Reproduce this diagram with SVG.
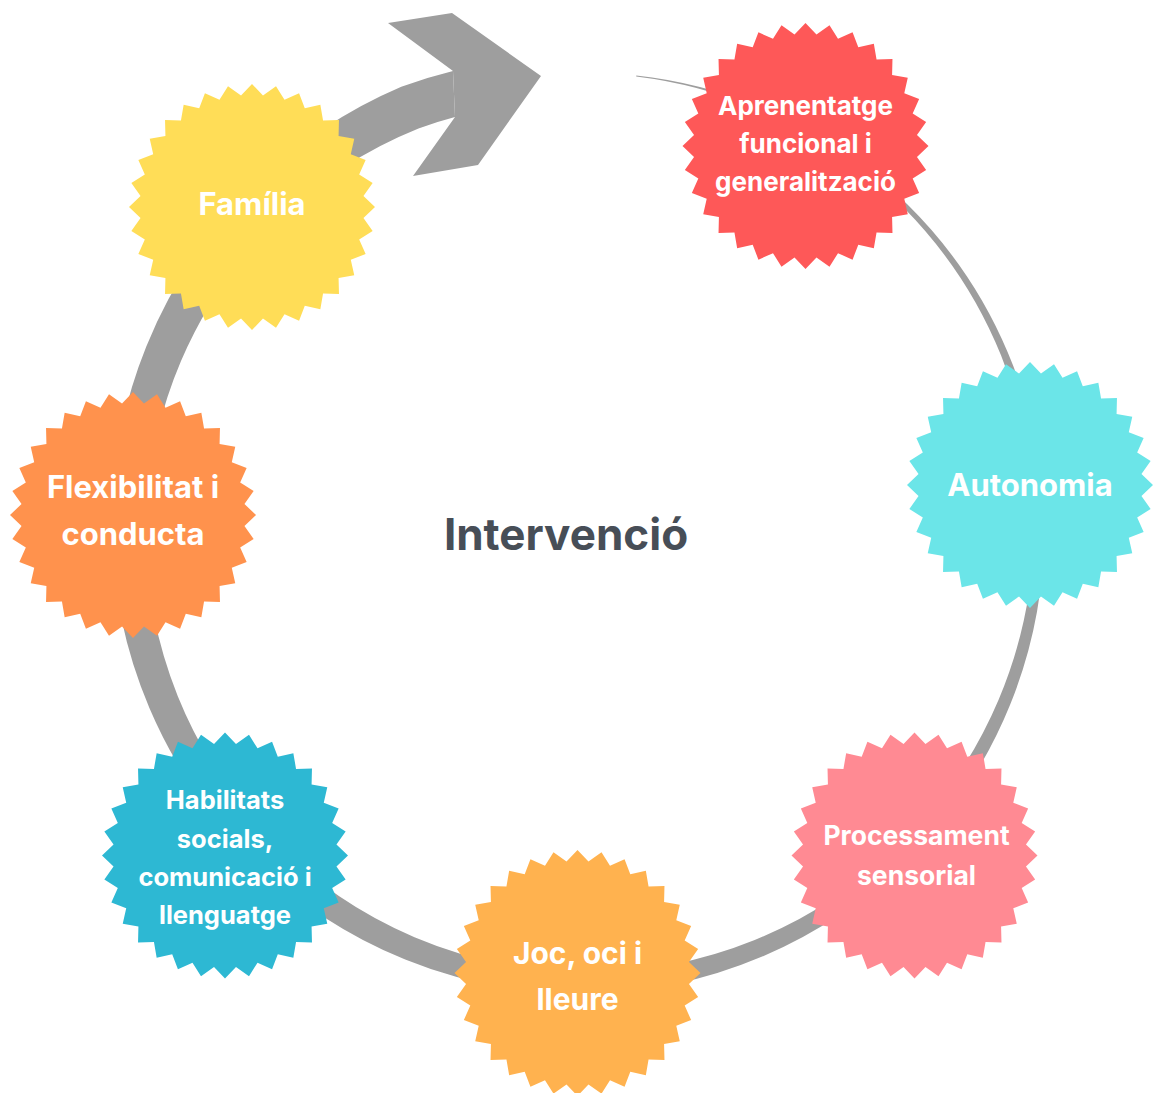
<svg xmlns="http://www.w3.org/2000/svg" xmlns:xlink="http://www.w3.org/1999/xlink" width="1153" height="1093" viewBox="0 0 1153 1093">
  <style>
    .band { fill: #9e9e9e; }
    .label { font-family: Inter, "Open Sans", "Liberation Sans", sans-serif; font-weight: 700; fill: #ffffff; text-anchor: middle; }
    .title { font-family: Inter, "Open Sans", "Liberation Sans", sans-serif; font-weight: 700; fill: #474e57; text-anchor: middle; font-size: 44px; }
  </style>
  <defs>
    <!-- 32-point starburst, apex at top, centred on the origin -->
    <polygon id="star" points="0,-123 10.98,-111.46 24,-120.64 32.51,-107.18 47.07,-113.64 52.8,-98.78 68.34,-102.27 71.05,-86.58 86.97,-86.97 86.58,-71.05 102.27,-68.34 98.78,-52.8 113.64,-47.07 107.18,-32.51 120.64,-24 111.46,-10.98 123,0 111.46,10.98 120.64,24 107.18,32.51 113.64,47.07 98.78,52.8 102.27,68.34 86.58,71.05 86.97,86.97 71.05,86.58 68.34,102.27 52.8,98.78 47.07,113.64 32.51,107.18 24,120.64 10.98,111.46 0,123 -10.98,111.46 -24,120.64 -32.51,107.18 -47.07,113.64 -52.8,98.78 -68.34,102.27 -71.05,86.58 -86.97,86.97 -86.58,71.05 -102.27,68.34 -98.78,52.8 -113.64,47.07 -107.18,32.51 -120.64,24 -111.46,10.98 -123,0 -111.46,-10.98 -120.64,-24 -107.18,-32.51 -113.64,-47.07 -98.78,-52.8 -102.27,-68.34 -86.58,-71.05 -86.97,-86.97 -71.05,-86.58 -68.34,-102.27 -52.8,-98.78 -47.07,-113.64 -32.51,-107.18 -24,-120.64 -10.98,-111.46"/>
  </defs>

  <rect width="1153" height="1093" fill="#ffffff"/>

  <!-- cycle band: tapers from a hairline at the top right, widening clockwise into the arrowhead -->
  <g id="connectors">
    <path class="band" d="M 636.3 75.5
      A 456 456 0 0 1 758.6 106.4
      A 457 457 0 0 1 907.5 204.5
      A 458 458 0 0 1 1007.8 352.5
      A 459 459 0 0 1 1044 528
      A 461 461 0 0 1 1010.2 704.5
      A 462 462 0 0 1 911.2 855.2
      A 463 463 0 0 1 761.6 956.8
      A 465 465 0 0 1 584 993.6
      A 466 466 0 0 1 405.2 959.6
      A 468 468 0 0 1 252.6 859.4
      A 470 470 0 0 1 149.4 708
      A 471 471 0 0 1 111.9 528
      A 473 473 0 0 1 146.2 346.7
      A 475 475 0 0 1 247.7 191.7
      A 476 476 0 0 1 401.3 86.8
      A 477 477 0 0 1 453 71
      L 455 117
      A 432 432 0 0 0 418.5 128.4
      A 433 433 0 0 0 276.9 220.9
      A 435 435 0 0 0 181 361.1
      A 437 437 0 0 0 146.1 528
      A 439 439 0 0 0 177.8 696.3
      A 440 440 0 0 0 272 840
      A 442 442 0 0 0 414.5 937.2
      A 444 444 0 0 0 584 972.4
      A 445 445 0 0 0 754.7 940
      A 447 447 0 0 0 900.3 844.3
      A 448 448 0 0 0 998.6 699.7
      A 450 450 0 0 0 1034 528
      A 451 451 0 0 0 1001 355.3
      A 452 452 0 0 0 904 208
      A 454 454 0 0 0 757.6 108.8
      A 454.5 454.5 0 0 0 636.2 76.5 Z"/>
    <polygon class="band" points="388,23 452,13 541,76 478,165 413,176 455,117 453,71"/>
  </g>

  <g id="node-aprenentatge" transform="translate(805.5,146)">
    <use xlink:href="#star" fill="#fe5858"/>
    <text class="label" font-size="26" x="0" y="-31">Aprenentatge</text>
    <text class="label" font-size="26" x="0" y="7">funcional i</text>
    <text class="label" font-size="26" x="0" y="45">generalització</text>
  </g>

  <g id="node-autonomia" transform="translate(1030,485)">
    <use xlink:href="#star" fill="#6be5e8"/>
    <text class="label" font-size="31" x="0" y="11">Autonomia</text>
  </g>

  <g id="node-processament" transform="translate(914.5,855.5)">
    <use xlink:href="#star" fill="#ff8a93"/>
    <text class="label" font-size="26.5" x="2" y="-10.5">Processament</text>
    <text class="label" font-size="26.5" x="2" y="29.5">sensorial</text>
  </g>

  <g id="node-joc" transform="translate(577.5,973)">
    <use xlink:href="#star" fill="#ffb24f"/>
    <text class="label" font-size="30" x="0" y="-9">Joc, oci i</text>
    <text class="label" font-size="30" x="0" y="37">lleure</text>
  </g>

  <g id="node-habilitats" transform="translate(225,855.5)">
    <use xlink:href="#star" fill="#2db8d3"/>
    <text class="label" font-size="25.5" x="0" y="-46.5">Habilitats</text>
    <text class="label" font-size="25.5" x="0" y="-8">socials,</text>
    <text class="label" font-size="25.5" x="0" y="30.5">comunicació i</text>
    <text class="label" font-size="25.5" x="0" y="68.5">llenguatge</text>
  </g>

  <g id="node-flexibilitat" transform="translate(133,515)">
    <use xlink:href="#star" fill="#ff924d"/>
    <text class="label" font-size="31" x="0" y="-17">Flexibilitat i</text>
    <text class="label" font-size="31" x="0" y="30">conducta</text>
  </g>

  <g id="node-familia" transform="translate(252,207)">
    <use xlink:href="#star" fill="#ffdd57"/>
    <text class="label" font-size="31" x="0" y="8">Família</text>
  </g>

  <g id="title">
    <text class="title" x="566" y="550">Intervenció</text>
  </g>
</svg>
